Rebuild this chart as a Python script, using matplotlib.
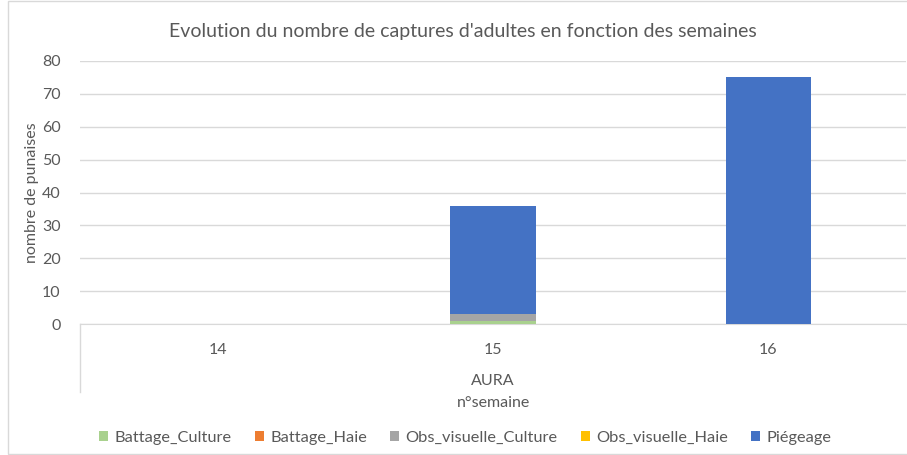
import matplotlib.pyplot as plt
import numpy as np

plt.rcParams['font.family'] = ['Lato', 'DejaVu Sans']

# data
semaines = ['14', '15', '16']
battage_culture = [0, 1, 0]
battage_haie = [0, 0, 0]
obs_visuelle_culture = [0, 2, 0]
obs_visuelle_haie = [0, 0, 0]
piegeage = [0, 33, 75]

series = [
    ('Battage_Culture', battage_culture, '#a9d18e'),
    ('Battage_Haie', battage_haie, '#ed7d31'),
    ('Obs_visuelle_Culture', obs_visuelle_culture, '#a5a5a5'),
    ('Obs_visuelle_Haie', obs_visuelle_haie, '#ffc000'),
    ('Piégeage', piegeage, '#4472c4'),
]

grey = '#595959'
fig = plt.figure(figsize=(9.07, 4.55), dpi=100)
ax = fig.add_axes([80 / 907, 1 - 324 / 455, 826 / 907, 263 / 455])

x = np.arange(len(semaines))
bottom = np.zeros(len(semaines))
for name, vals, col in series:
    ax.bar(x, vals, width=0.31, bottom=bottom, color=col, label=name, zorder=3)
    bottom += np.array(vals)

ax.set_xlim(-0.5, 2.5)
ax.set_ylim(0, 80)
ax.set_yticks(np.arange(0, 81, 10))
ax.grid(axis='y', color='#d9d9d9', linewidth=1, zorder=0)
for s in ['top', 'right', 'left']:
    ax.spines[s].set_visible(False)
ax.spines['bottom'].set_color('#d9d9d9')
ax.tick_params(axis='y', length=0, labelsize=11.5, labelcolor=grey, pad=14)
ax.tick_params(axis='x', length=0, labelsize=11.5, labelcolor=grey, pad=14)
ax.set_xticks(x)
ax.set_xticklabels(semaines)
ax.set_ylabel('nombre de punaises', fontsize=11.5, color=grey, labelpad=2)

# multi-level category axis: group label + separator
ax.plot([0, 0], [0, -0.26], transform=ax.transAxes, color='#d9d9d9',
        linewidth=1, clip_on=False)
ax.text(0.5, -0.217, 'AURA', transform=ax.transAxes, ha='center', va='center',
        fontsize=11.5, color=grey)
ax.text(0.5, -0.30, 'n°semaine', transform=ax.transAxes, ha='center', va='center',
        fontsize=11.5, color=grey)

fig.suptitle("Evolution du nombre de captures d'adultes en fonction des semaines",
             x=0.51, y=1 - 32 / 455, va='center', fontsize=14, color=grey)

leg = fig.legend(loc='center', bbox_to_anchor=(0.513, 1 - 438 / 455), ncol=5,
                 frameon=False, fontsize=11.8, handlelength=0.55, handleheight=0.55,
                 handletextpad=0.4, columnspacing=1.4)
for t in leg.get_texts():
    t.set_color(grey)

# chart border
fig.add_artist(plt.Rectangle((8 / 907, 0.002), 1, 0.996, transform=fig.transFigure,
                             fill=False, edgecolor='#d9d9d9', linewidth=1))

fig.savefig('out.png', dpi=100)
